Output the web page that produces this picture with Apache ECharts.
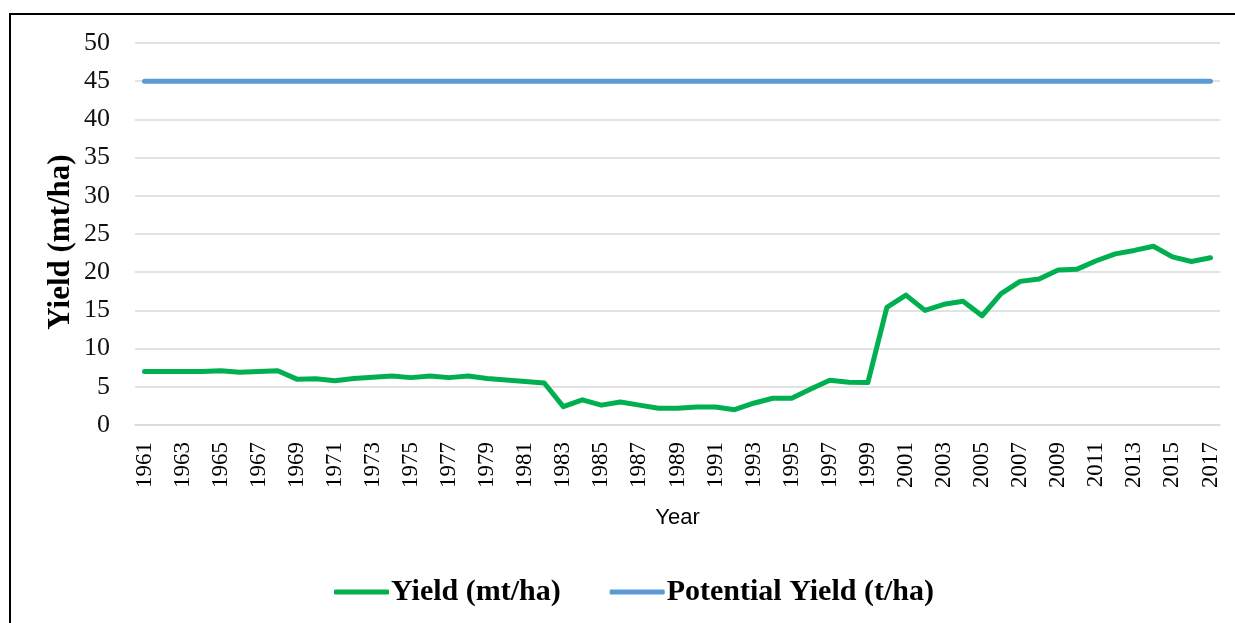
<!DOCTYPE html>
<html>
<head>
<meta charset="utf-8">
<script src="https://cdn.jsdelivr.net/npm/echarts@6/dist/echarts.min.js"></script>
<style>
  html, body { margin: 0; padding: 0; background: #fff; }
  #c1 { width: 1235px; height: 623px; }
</style>
</head>
<body>
<div id="c1"></div>
<script>
var years = [];
for (var y = 1961; y <= 2017; y++) years.push(String(y));

// yield (mt/ha)
var yieldVals = [
  7.0, 7.0, 7.0, 7.0, 7.1, 6.9, 7.0, 7.1, 6.0, 6.05,
  5.8, 6.1, 6.25, 6.4, 6.2, 6.4, 6.2, 6.4, 6.1, 5.9,
  5.7, 5.5, 2.4, 3.3, 2.6, 3.0, 2.6, 2.2, 2.2, 2.35,
  2.35, 2.0, 2.85, 3.5, 3.5, 4.7, 5.85, 5.6, 5.55, 15.4,
  17.0, 15.0, 15.8, 16.2, 14.3, 17.2, 18.8, 19.1, 20.3, 20.4,
  21.5, 22.4, 22.85, 23.4, 22.0, 21.4, 21.9
];
var potentialVals = years.map(function () { return 45; });

var seriesNames = ['Yield (mt/ha)', 'Potential Yield (t/ha)'];
var yTitle = 'Yield (mt/ha)';

var myChart = echarts.init(document.getElementById('c1'), null, { renderer: 'canvas' });

myChart.setOption({
  backgroundColor: '#fff',
  animation: false,
  graphic: [
    {
      type: 'rect',
      shape: { x: 10, y: 14, width: 1400, height: 800 },
      style: { fill: 'none', stroke: '#000', lineWidth: 2 },
      z: 100
    },
    {
      // rotated y axis title
      type: 'text',
      x: 61,
      y: 242,
      rotation: Math.PI / 2,
      style: {
        text: yTitle,
        fontFamily: 'Liberation Serif',
        fontWeight: 'bold',
        fontSize: 31,
        fill: '#000',
        align: 'center',
        verticalAlign: 'middle'
      }
    }
  ],
  grid: { left: 135, right: 15, top: 43, bottom: 198, containLabel: false },
  legend: {
    data: seriesNames,
    left: 329,
    top: 572,
    icon: 'roundRect',
    itemWidth: 55,
    itemHeight: 5,
    itemGap: 49,
    textStyle: {
      fontFamily: 'Liberation Serif',
      fontWeight: 'bold',
      fontSize: 30,
      color: '#000',
      padding: [0, 0, 0, -3]
    }
  },
  xAxis: {
    type: 'category',
    data: years,
    boundaryGap: true,
    name: 'Year',
    nameLocation: 'middle',
    nameGap: 82,
    nameTextStyle: { fontFamily: 'Liberation Sans', fontSize: 22, color: '#000' },
    axisLine: { show: true, lineStyle: { color: '#d9d9d9', width: 1.5 } },
    axisTick: { show: false },
    axisLabel: {
      interval: 1,
      rotate: 90,
      margin: 17,
      fontFamily: 'Liberation Serif',
      fontSize: 23,
      color: '#000'
    }
  },
  yAxis: {
    type: 'value',
    min: 0,
    max: 50,
    interval: 5,
    axisLine: { show: false },
    axisTick: { show: false },
    splitLine: { lineStyle: { color: '#d9d9d9', width: 1.5 } },
    axisLabel: {
      margin: 25,
      fontFamily: 'Liberation Serif',
      fontSize: 26,
      color: '#111'
    }
  },
  series: [
    {
      name: seriesNames[0],
      type: 'line',
      data: yieldVals,
      symbol: 'none',
      showSymbol: false,
      color: '#00b050',
      lineStyle: { color: '#00b050', width: 5, cap: 'round', join: 'round' },
      z: 3
    },
    {
      name: seriesNames[1],
      type: 'line',
      data: potentialVals,
      symbol: 'none',
      showSymbol: false,
      color: '#5b9bd5',
      lineStyle: { color: '#5b9bd5', width: 5, cap: 'round' },
      z: 2
    }
  ]
});
</script>
</body>
</html>
